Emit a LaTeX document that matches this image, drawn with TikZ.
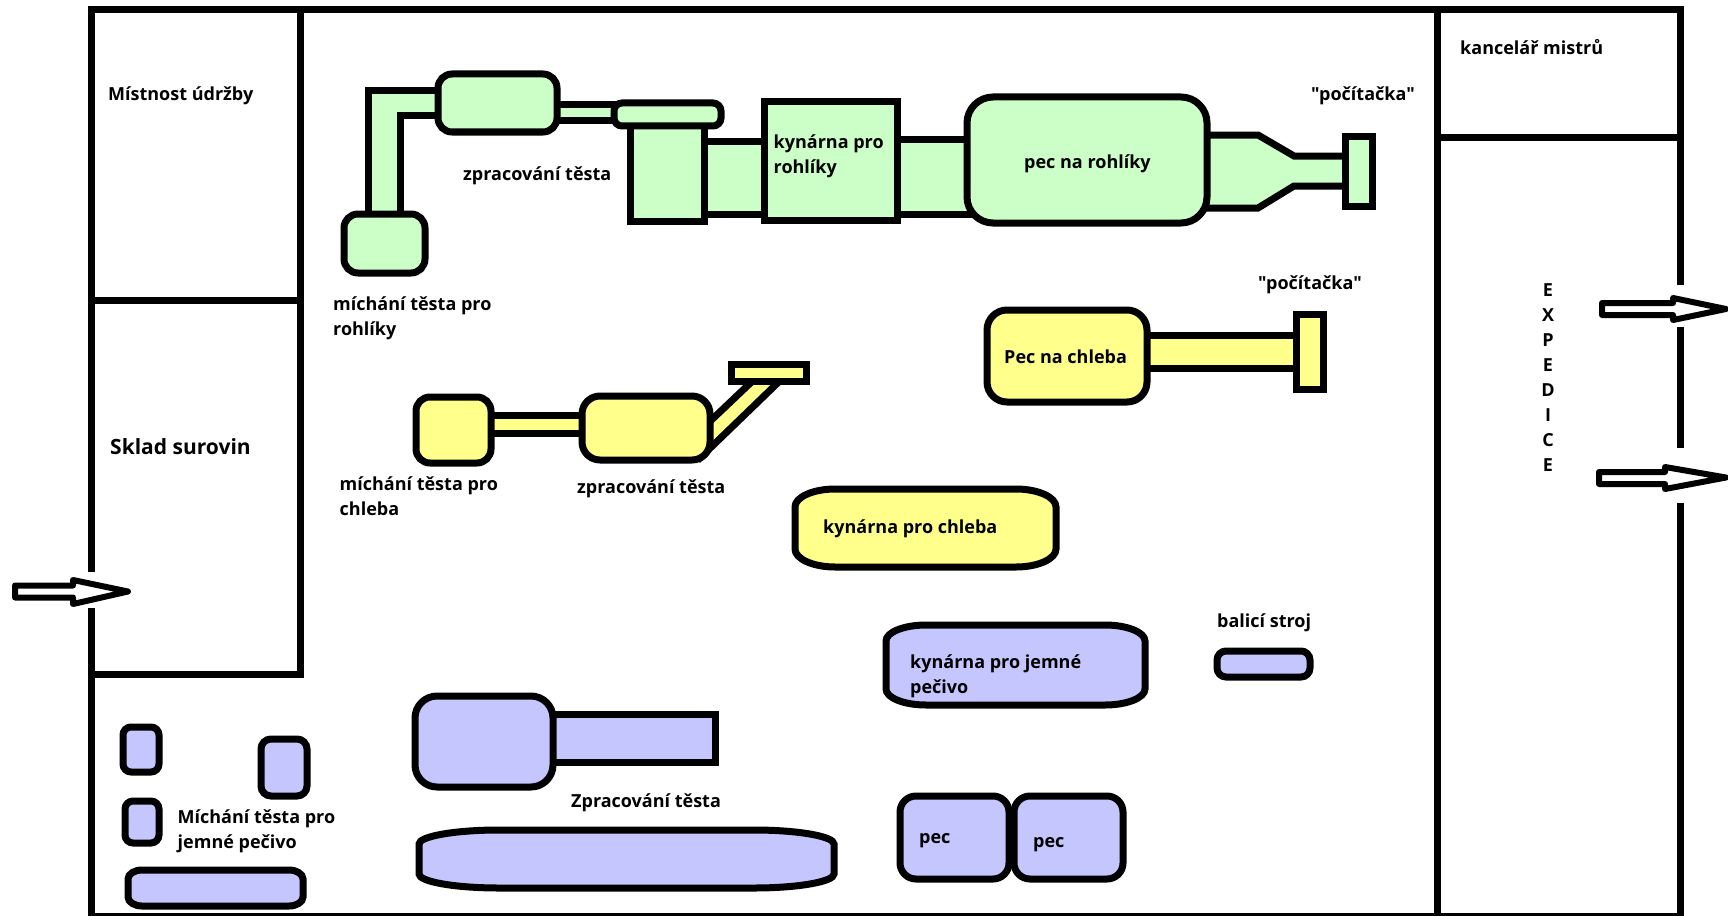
\documentclass[tikz,border=0pt]{standalone}
\usepackage{fontspec}
\setmainfont[Ligatures=TeXOff]{Open Sans}
\definecolor{rohlikfill}{RGB}{204,255,200}
\definecolor{chlebafill}{RGB}{255,255,140}
\definecolor{pecivofill}{RGB}{198,198,255}
\tikzset{
  wall/.style={line width=7pt},
  part/.style={line width=7pt,line join=miter},
  rohlik/.style={part,fill=rohlikfill},
  chleba/.style={part,fill=chlebafill},
  pecivo/.style={part,fill=pecivofill},
  flow/.style={line width=6pt,line join=round,fill=white},
  lbl/.style={anchor=base west,inner sep=0pt,align=left,font=\bfseries\fontsize{18}{25}\selectfont},
}
\newcommand{\ovalpart}[7]{%
\draw[#1] ({#2+#6},#3) -- ({#4-#6},#3)
  .. controls ({#4-.45*#6},#3) and (#4,{#3+.45*#7}) .. (#4,{#3+#7})
  -- (#4,{#5-#7})
  .. controls (#4,{#5-.45*#7}) and ({#4-.45*#6},#5) .. ({#4-#6},#5)
  -- ({#2+#6},#5)
  .. controls ({#2+.45*#6},#5) and (#2,{#5-.45*#7}) .. (#2,{#5-#7})
  -- (#2,{#3+#7})
  .. controls (#2,{#3+.45*#7}) and ({#2+.45*#6},#3) .. ({#2+#6},#3) -- cycle;}
\begin{document}
\begin{tikzpicture}[x=1pt,y=-1pt]
\useasboundingbox (0,0) rectangle (1728,915);
\draw[wall] (1680,285) -- (1680,10) -- (91,10) -- (91,572);
\draw[wall] (91,608) -- (91,916) -- (1680,916) -- (1680,503);
\draw[wall] (1680,327) -- (1680,448);
\draw[wall] (300,10) -- (300,674) -- (91,674);
\draw[wall] (91,300) -- (300,300);
\draw[wall] (1437,10) -- (1437,916);
\draw[wall] (1437,137) -- (1680,137);
\draw[rohlik] (368,230) -- (368,91) -- (450,91) -- (450,116) -- (400,116) -- (400,230) -- cycle;
\draw[rohlik] (540,105) rectangle (630,121);
\draw[rohlik] (690,141) rectangle (780,214);
\draw[rohlik] (880,139) rectangle (980,214);
\draw[rohlik] (1190,135) -- (1258,135) -- (1294,156) -- (1350,156) -- (1350,186) -- (1294,186) -- (1258,208) -- (1190,208) -- cycle;
\ovalpart{rohlik}{344}{214}{425}{273}{14}{14}
\ovalpart{rohlik}{438}{74}{557}{132}{14}{14}
\draw[rohlik] (630,120) rectangle (704,221);
\ovalpart{rohlik}{614}{103}{721}{126}{8}{8}
\draw[rohlik] (764,102) rectangle (897,220);
\ovalpart{rohlik}{967}{97}{1207}{223}{26}{26}
\draw[rohlik] (1345,136) rectangle (1372,206);
\draw[chleba] (1130,335) rectangle (1305,368);
\ovalpart{chleba}{987}{310}{1147}{402}{20}{20}
\draw[chleba] (1296,314) rectangle (1323,389);
\draw[chleba] (480,415) rectangle (595,433);
\ovalpart{chleba}{416}{397}{491}{463}{14}{14}
\draw[chleba] (703,428) -- (763,371) -- (790,371) -- (703,455) -- cycle;
\ovalpart{chleba}{582}{396}{710}{460}{18}{18}
\draw[chleba] (731,364) rectangle (806,381);
\ovalpart{chleba}{795}{489}{1056}{567}{40}{18}
\ovalpart{pecivo}{123}{727}{159}{772}{8}{8}
\ovalpart{pecivo}{261}{739}{307}{796}{10}{10}
\ovalpart{pecivo}{125}{801}{159}{843}{8}{8}
\ovalpart{pecivo}{128}{870}{303}{906}{14}{9}
\draw[pecivo] (530,714) rectangle (715,762);
\ovalpart{pecivo}{415}{696}{553}{787}{22}{22}
\ovalpart{pecivo}{419}{830}{834}{888}{80}{14}
\ovalpart{pecivo}{886}{625}{1145}{705}{40}{16}
\ovalpart{pecivo}{1217}{651}{1310}{677}{9}{9}
\ovalpart{pecivo}{900}{796}{1009}{879}{16}{16}
\ovalpart{pecivo}{1014}{796}{1123}{879}{16}{16}
\draw[flow] (15,585.5) -- (73,585.5) -- (73,580) -- (128,591.5) -- (73,604) -- (73,597.5) -- (15,597.5) -- cycle;
\draw[flow] (1602,303) -- (1673,303) -- (1673,298) -- (1726,309) -- (1673,320) -- (1673,315) -- (1602,315) -- cycle;
\draw[flow] (1599,472) -- (1665,472) -- (1665,467) -- (1726,477.5) -- (1665,489) -- (1665,484) -- (1599,484) -- cycle;
\node[lbl] (udrzba) at (108,101) {Místnost údržby};
\node[lbl,font=\bfseries\fontsize{21}{25}\selectfont] (sklad) at (110,454) {Sklad surovin};
\node[lbl] (mistri) at (1460,55) {kancelář mistrů};
\node[lbl] (zprrohlik) at (463,180) {zpracování těsta};
\node[lbl] (mixrohlik) at (333,335) {míchání těsta pro\\rohlíky};
\node[lbl] (kynrohlik) at (773.5,173) {kynárna pro\\rohlíky};
\node[lbl] (pecrohlik) at (1024,168) {pec na rohlíky};
\node[lbl] (pocrohlik) at (1311,101) {"počítačka"};
\node[lbl] (pocchleba) at (1258,289) {"počítačka"};
\node[lbl] (pecchleba) at (1004,363) {Pec na chleba};
\node[lbl] (mixchleba) at (339.5,515) {míchání těsta pro\\chleba};
\node[lbl] (zprchleba) at (577,493) {zpracování těsta};
\node[lbl] (kynchleba) at (823,533) {kynárna pro chleba};
\node[lbl] (kynpecivo) at (910,693) {kynárna pro jemné\\pečivo};
\node[lbl] (balici) at (1217,627) {balicí stroj};
\node[lbl] (pecone) at (919,843) {pec};
\node[lbl] (pectwo) at (1033,847) {pec};
\node[lbl] (mixpecivo) at (177.5,848) {Míchání těsta pro\\jemné pečivo};
\node[lbl] (zprpecivo) at (571,807) {Zpracování těsta};
\foreach \y/\ch [count=\i] in {296/E,321/X,346/P,371/E,396/D,421/I,446/C,471/E}
\node[lbl,anchor=base] (exp\i) at (1548,\y) {\ch};
\end{tikzpicture}
\end{document}
